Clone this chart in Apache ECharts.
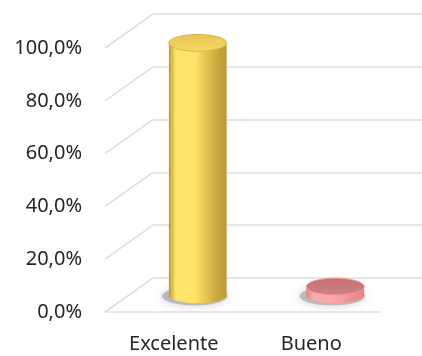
<!DOCTYPE html>
<html>
<head>
<meta charset="utf-8">
<script src="https://cdn.jsdelivr.net/npm/echarts@6/dist/echarts.min.js"></script>
<style>
  html, body { margin: 0; padding: 0; background: #fff; }
  #chart { width: 422px; height: 356px; }
</style>
</head>
<body>
<div id="chart"></div>
<script>
// Rating categories and their share of answers (%)
const categories = ['Excelente', 'Bueno'];
const values = [95.5, 3.2];
const yTicks = [0, 20, 40, 60, 80, 100];
const yTickLabels = ['0,0%', '20,0%', '40,0%', '60,0%', '80,0%', '100,0%'];

// Oblique depth of the 3D box: back wall offset from the front plane
const DEPTH_X = 48, DEPTH_Y = -34;
const FONT = '"Comic Sans MS", "Noto Sans", sans-serif';

const palettes = [
  { edgeL: '#b99b38', mid: '#ffe46a', edgeR: '#c9a53c', top1: '#e6c452', top2: '#f6d866', stroke: '#d8b747' },
  { edgeL: '#e98383', mid: '#fca9a9', edgeR: '#ec8a8a', top1: '#c47272', top2: '#cf8080', stroke: '#f09a9a' }
];

function bodyGradient(p) {
  return new echarts.graphic.LinearGradient(0, 0, 1, 0, [
    { offset: 0, color: p.edgeL },
    { offset: 0.12, color: p.mid },
    { offset: 0.45, color: p.mid },
    { offset: 0.85, color: p.edgeR },
    { offset: 1, color: p.edgeL }
  ]);
}

function renderCylinder(params, api) {
  const idx = api.value(0);
  const v = api.value(1);
  const base = api.coord([idx, 0]);
  const top = api.coord([idx, v]);
  const band = api.size([1, 0])[0];
  const rx = band * 0.21;
  const ry = rx * 0.29;
  // cylinders stand half way into the box depth
  const cx = base[0] + DEPTH_X / 2;
  const by = base[1] + DEPTH_Y / 2;
  const ty = top[1] + DEPTH_Y / 2;
  const p = palettes[idx % palettes.length];
  return {
    type: 'group',
    children: [
      {
        type: 'ellipse',
        shape: { cx: cx - 3, cy: by + 1, rx: rx + 4, ry: ry + 1 },
        style: { fill: 'rgba(110,110,110,0.35)', shadowBlur: 9, shadowColor: 'rgba(90,90,90,0.8)' }
      },
      {
        type: 'ellipse',
        shape: { cx: cx, cy: by, rx: rx, ry: ry },
        style: { fill: bodyGradient(p) }
      },
      {
        type: 'rect',
        shape: { x: cx - rx, y: ty, width: rx * 2, height: by - ty },
        style: { fill: bodyGradient(p) }
      },
      {
        type: 'ellipse',
        shape: { cx: cx, cy: ty, rx: rx, ry: ry },
        style: {
          fill: new echarts.graphic.LinearGradient(0, 0, 0, 1, [
            { offset: 0, color: p.top1 },
            { offset: 1, color: p.top2 }
          ]),
          stroke: p.stroke,
          lineWidth: 1
        }
      }
    ]
  };
}

// Oblique lines joining the front value levels to the back wall
function renderDepthLine(params, api) {
  const v = api.value(0);
  const cs = params.coordSys;
  const y = api.coord([0, v])[1];
  return {
    type: 'line',
    shape: { x1: cs.x, y1: y, x2: cs.x + DEPTH_X, y2: y + DEPTH_Y },
    style: { stroke: '#dcdfe7', lineWidth: 1.6 }
  };
}

const chart = echarts.init(document.getElementById('chart'), null, { renderer: 'canvas' });
chart.setOption({
  animation: false,
  backgroundColor: '#ffffff',
  grid: [
    { left: 105, top: 48, width: 275, height: 264 },
    { left: 105 + DEPTH_X, top: 48 + DEPTH_Y, right: -10, height: 264 }
  ],
  xAxis: [
    {
      gridIndex: 0,
      type: 'category',
      data: categories,
      axisLine: { show: true, lineStyle: { color: '#dcdfe7', width: 1.6 } },
      axisTick: { show: false },
      axisLabel: { margin: 22, color: '#262626', fontSize: 20, fontFamily: FONT }
    },
    { gridIndex: 1, type: 'category', data: categories, show: false }
  ],
  yAxis: [
    {
      gridIndex: 0,
      type: 'value',
      min: 0, max: 100, interval: 20,
      axisLine: { show: false },
      axisTick: { show: false },
      splitLine: { show: false },
      axisLabel: {
        margin: 23,
        color: '#262626',
        fontSize: 20,
        fontFamily: FONT,
        padding: [7, 0, 0, 0],
        formatter: function (val) {
          const i = yTicks.indexOf(val);
          return i >= 0 ? yTickLabels[i] : '';
        }
      }
    },
    {
      gridIndex: 1,
      type: 'value',
      min: 0, max: 100, interval: 20,
      axisLine: { show: false },
      axisTick: { show: false },
      axisLabel: { show: false },
      splitLine: { show: true, lineStyle: { color: '#dcdfe7', width: 1.6 } }
    }
  ],
  series: [
    {
      type: 'custom',
      xAxisIndex: 0, yAxisIndex: 0,
      renderItem: renderDepthLine,
      data: yTicks.map(t => [t]),
      encode: { y: 0 },
      silent: true,
      z: 1
    },
    {
      type: 'custom',
      xAxisIndex: 0, yAxisIndex: 0,
      renderItem: renderCylinder,
      data: values.map((v, i) => [i, v]),
      encode: { x: 0, y: 1 },
      z: 3
    }
  ]
});
</script>
</body>
</html>
